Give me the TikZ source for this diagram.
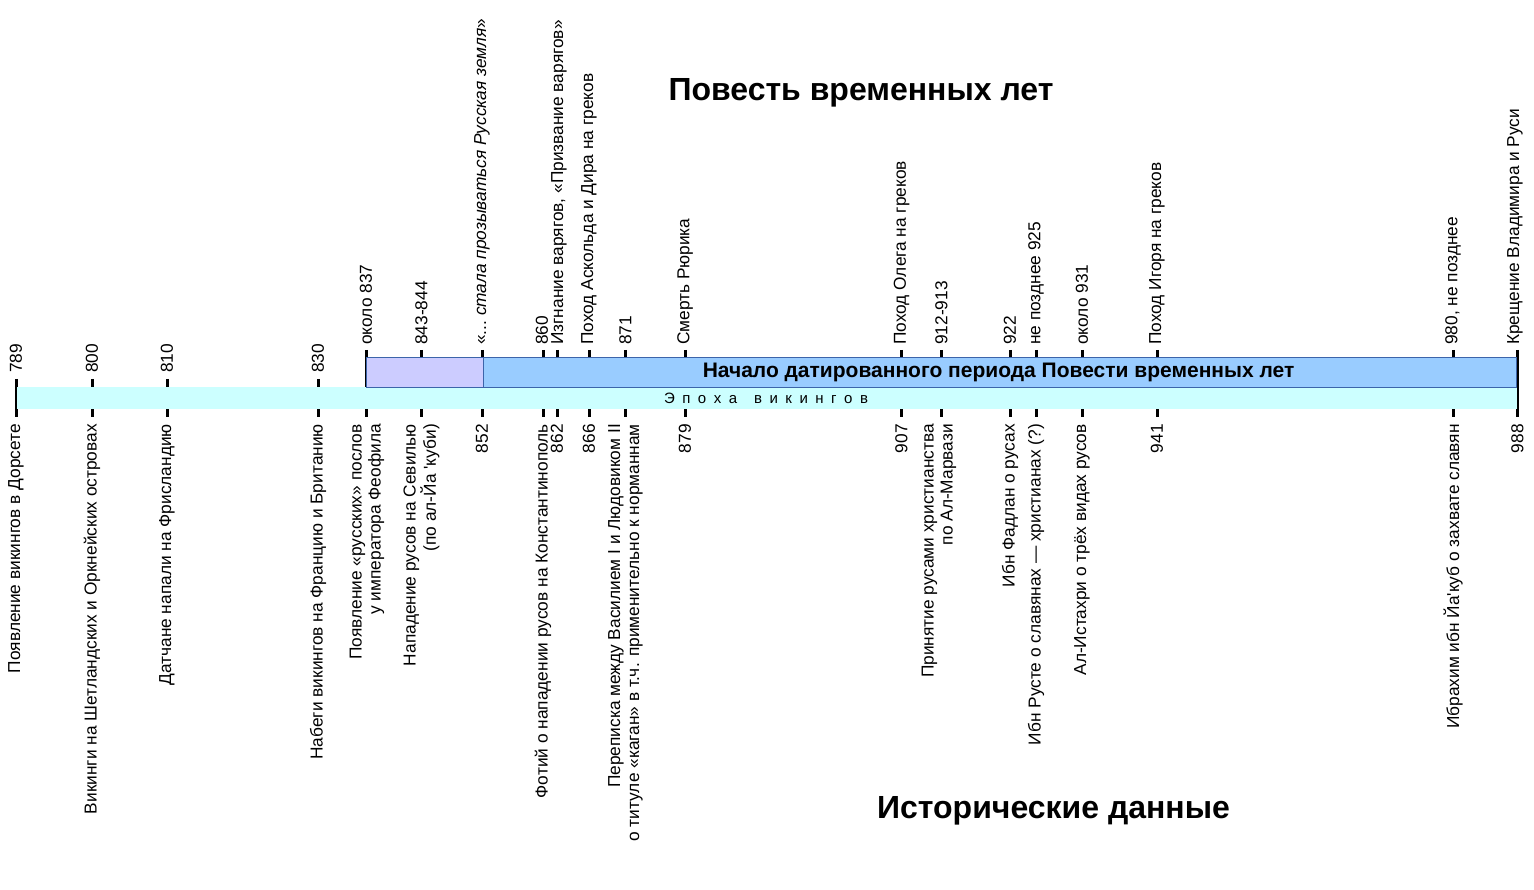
\documentclass[tikz,border=0pt]{standalone}
\usepackage{fontspec}
\setmainfont{Liberation Sans}
\definecolor{vikingcyan}{RGB}{204,255,255}
\definecolor{pvlblue}{RGB}{153,204,255}
\definecolor{pvlviolet}{RGB}{204,204,255}
\definecolor{pvlborder}{RGB}{60,100,170}
\newcommand{\lsp}{\hspace{7.5pt}}
\newcommand{\wsp}{\hspace{17pt}}
\newcommand{\apos}{\XeTeXglyph\XeTeXcharglyph"0027\relax}

\begin{document}
\begin{tikzpicture}[x=1pt, y=-1pt,
		yeartick/.style={line width=3pt, black},
		toplabel/.style={rotate=90, anchor=west, inner sep=0pt, font=\fontsize{17.3}{19}\selectfont},
		bottomlabel/.style={rotate=90, anchor=east, inner sep=0pt, align=right, font=\fontsize{17.3}{19}\selectfont},
		heading/.style={anchor=base, inner sep=0pt, font=\fontsize{32}{36}\selectfont\bfseries}]
			\useasboundingbox (0,0) rectangle (1534,890);
			% ticks
			\draw[yeartick] (16,379) -- (16,417);
			\draw[yeartick] (92,379) -- (92,417);
			\draw[yeartick] (167,379) -- (167,417);
			\draw[yeartick] (318,379) -- (318,417);
			\draw[yeartick] (366,350) -- (366,417);
			\draw[yeartick] (421.5,350) -- (421.5,417);
			\draw[yeartick] (482,350) -- (482,417);
			\draw[yeartick] (543,350) -- (543,417);
			\draw[yeartick] (557,350) -- (557,417);
			\draw[yeartick] (589,350) -- (589,417);
			\draw[yeartick] (625.5,350) -- (625.5,417);
			\draw[yeartick] (685,350) -- (685,417);
			\draw[yeartick] (901.5,350) -- (901.5,417);
			\draw[yeartick] (941.5,350) -- (941.5,417);
			\draw[yeartick] (1010,350) -- (1010,417);
			\draw[yeartick] (1036,350) -- (1036,417);
			\draw[yeartick] (1082,350) -- (1082,417);
			\draw[yeartick] (1157,350) -- (1157,417);
			\draw[yeartick] (1453,350) -- (1453,417);
			\draw[yeartick] (1517.5,350) -- (1517.5,417);
			% bars
			\fill[vikingcyan] (17,387) rectangle (1516.5,409);
			\draw[pvlborder, fill=pvlviolet] (366,357) rectangle (483,387);
			\draw[pvlborder, fill=pvlblue] (483,357) rectangle (1516.5,387);
			\node[anchor=base, inner sep=0pt, font=\fontsize{21}{24}\selectfont\bfseries] (pvl) at (998.5,378) {Начало датированного периода Повести временных лет};
			\node[anchor=base, inner sep=0pt, font=\fontsize{15}{17}\selectfont] (era) at (766,403) {Э\lsp п\lsp о\lsp х\lsp а\wsp в\lsp и\lsp к\lsp и\lsp н\lsp г\lsp о\lsp в};
			% titles
			\node[heading] (chronicle) at (861,101) {Повесть временных лет};
			\node[heading] (history) at (1053.5,818) {Исторические данные};
			% above the bar
			\node[toplabel] (t789) at (16,373) {789};
			\node[toplabel] (t800) at (92,373) {800};
			\node[toplabel] (t810) at (167,373) {810};
			\node[toplabel] (t830) at (318,373) {830};
			\node[toplabel] (t837) at (366,345) {около 837};
			\node[toplabel] (t843) at (421.5,345) {843-844};
			\node[toplabel] (t852) at (482,345) {«...~\textit{стала прозываться Русская земля}»};
			\node[toplabel] (t860) at (542,345) {860};
			\node[toplabel] (t862) at (559,345) {Изгнание варягов, «Призвание варягов»};
			\node[toplabel] (t866) at (589,345) {Поход Аскольда и Дира на греков};
			\node[toplabel] (t871) at (625.5,345) {871};
			\node[toplabel] (t879) at (685,345) {Смерть Рюрика};
			\node[toplabel] (t907) at (901.5,345) {Поход Олега на греков};
			\node[toplabel] (t912) at (941.5,345) {912-913};
			\node[toplabel] (t922) at (1010,345) {922};
			\node[toplabel] (t925) at (1036,345) {не позднее 925};
			\node[toplabel] (t931) at (1082,345) {около 931};
			\node[toplabel] (t941) at (1157,345) {Поход Игоря на греков};
			\node[toplabel] (t980) at (1453,345) {980, не позднее};
			\node[toplabel] (t988) at (1515,345) {Крещение Владимира и Руси};
			% below the bar
			\node[bottomlabel] (b789) at (16,424) {Появление викингов в Дорсете};
			\node[bottomlabel] (b800) at (92,424) {Викинги на Шетландских и Оркнейских островах};
			\node[bottomlabel] (b810) at (167,424) {Датчане напали на Фрисландию};
			\node[bottomlabel] (b830) at (318,424) {Набеги викингов на Францию и Британию};
			\node[bottomlabel] (b837) at (367,424) {Появление «русских» послов\\у императора Феофила};
			\node[bottomlabel] (b843) at (421.5,424) {Нападение русов на Севилью\\(по ал-Йа \apos куби)};
			\node[bottomlabel] (b852) at (482,424) {852};
			\node[bottomlabel] (b860) at (543,424) {Фотий о нападении русов на Константинополь};
			\node[bottomlabel] (b862) at (557,424) {862};
			\node[bottomlabel] (b866) at (589,424) {866};
			\node[bottomlabel] (b871) at (625.5,424) {Переписка между Василием I и Людовиком II\\о титуле «каган» в т.ч. применительно к норманнам};
			\node[bottomlabel] (b879) at (685,424) {879};
			\node[bottomlabel] (b907) at (901.5,424) {907};
			\node[bottomlabel] (b912) at (939,424) {Принятие русами христианства\\по Ал-Марвази};
			\node[bottomlabel] (b922) at (1010,424) {Ибн Фадлан о русах};
			\node[bottomlabel] (b925) at (1036,424) {Ибн Русте о славянах — христианах (?)};
			\node[bottomlabel] (b931) at (1082,424) {Ал-Истахри о трёх видах русов};
			\node[bottomlabel] (b941) at (1157,424) {941};
			\node[bottomlabel] (b980) at (1453,424) {Ибрахим ибн Йа\apos куб о захвате славян};
			\node[bottomlabel] (b988) at (1517.5,424) {988};
		\end{tikzpicture}
\end{document}
